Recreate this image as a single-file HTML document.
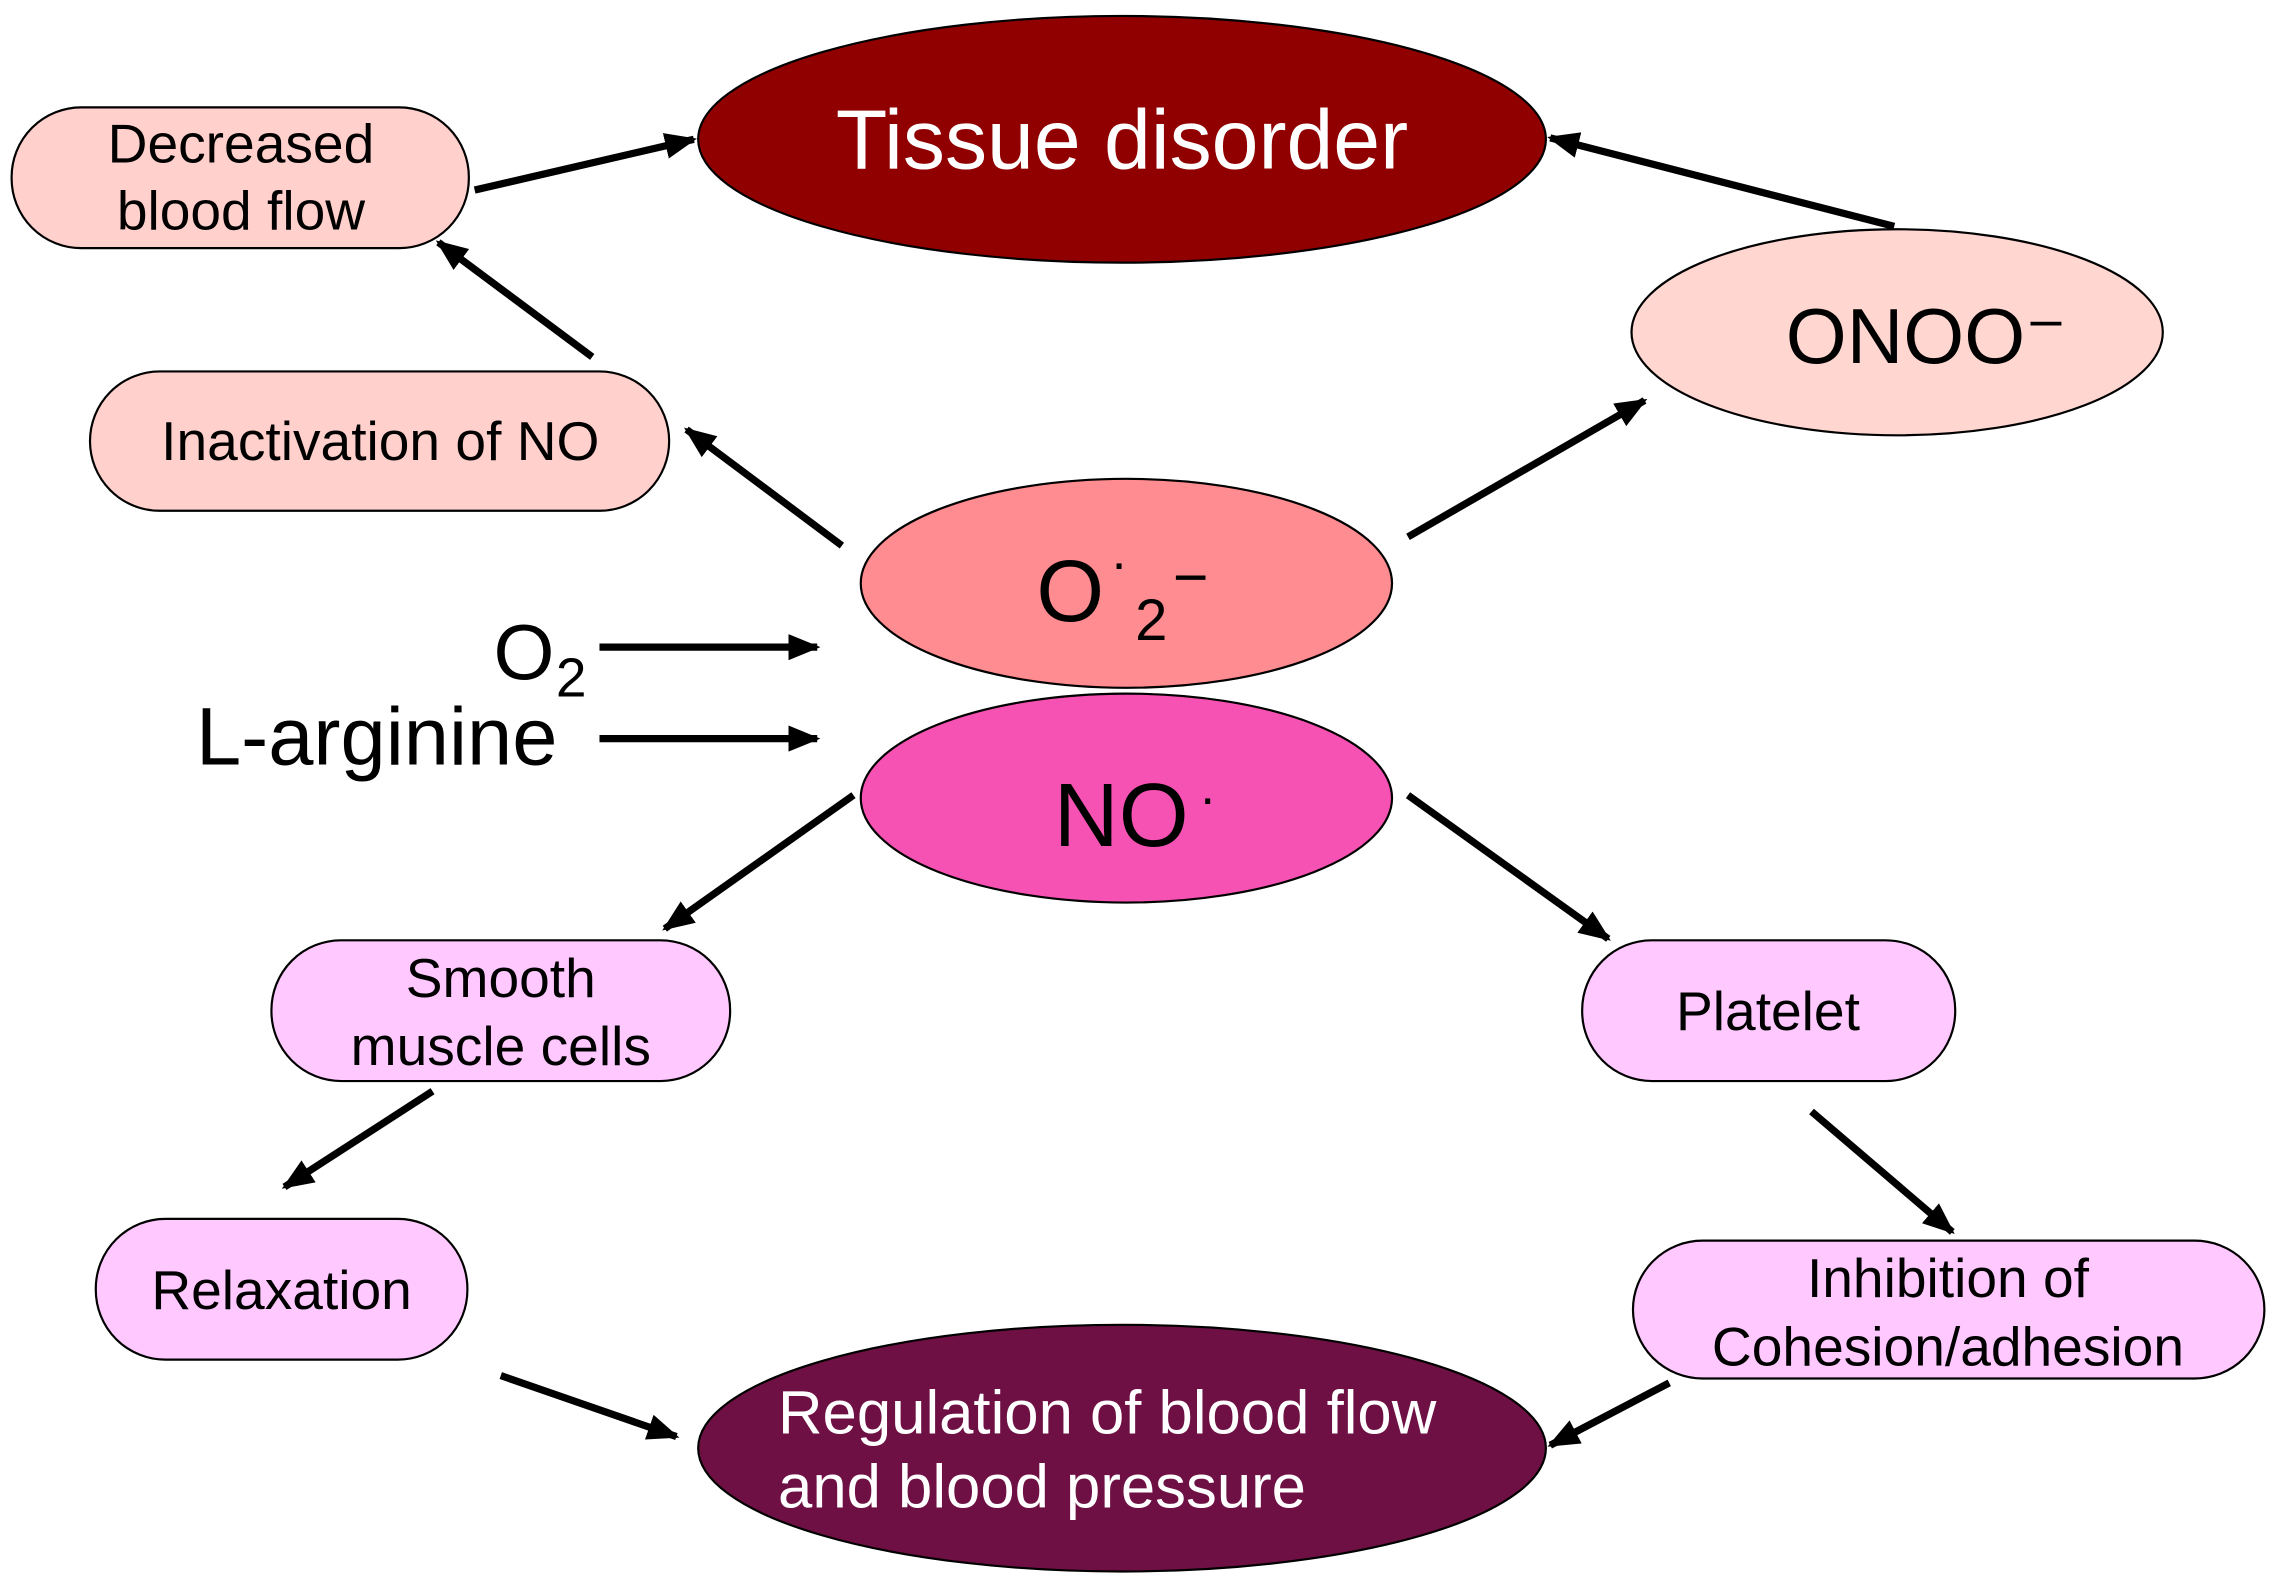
<!DOCTYPE html>
<html><head><meta charset="utf-8"><style>
html,body{margin:0;padding:0;background:#fff;}
svg{display:block;font-family:"Liberation Sans",Arial,sans-serif;}
</style></head><body>
<svg width="2276" height="1586" viewBox="0 0 1568 1093" preserveAspectRatio="none" xmlns="http://www.w3.org/2000/svg">
<defs>
<marker id="b" viewBox="0 0 10 10" refX="9" refY="5" markerWidth="22" markerHeight="18" orient="auto" markerUnits="userSpaceOnUse" preserveAspectRatio="none"><path d="M0,0 L10,5 L0,10 z" fill="#000"/></marker></defs>
<g stroke="#000" stroke-width="1.5">
<ellipse cx="773" cy="96" rx="292" ry="85" fill="#900000"/>
<rect x="8" y="74" width="315" height="97" rx="48" fill="#ffd0cc"/>
<rect x="62" y="256" width="399" height="96" rx="48" fill="#ffd0cc"/>
<ellipse cx="1307" cy="229" rx="183" ry="71" fill="#ffd6d0"/>
<ellipse cx="776" cy="402" rx="183" ry="72" fill="#ff8c90"/>
<ellipse cx="776" cy="550" rx="183" ry="72" fill="#f652b4"/>
<rect x="187" y="648" width="316" height="97" rx="48" fill="#ffc8ff"/>
<rect x="1090" y="648" width="257" height="97" rx="48" fill="#ffc8ff"/>
<rect x="66" y="840" width="256" height="97" rx="48" fill="#ffc8ff"/>
<rect x="1125" y="855" width="435" height="95" rx="48" fill="#ffc8ff"/>
<ellipse cx="773" cy="998" rx="292" ry="85" fill="#6e1044"/>
</g>
<g stroke="#000" stroke-width="5" marker-end="url(#b)" fill="none">
<line x1="327" y1="131" x2="478" y2="96"/>
<line x1="408" y1="246" x2="302" y2="167"/>
<line x1="580" y1="376" x2="473" y2="296"/>
<line x1="970" y1="370" x2="1133" y2="276"/>
<line x1="1305" y1="156" x2="1068" y2="95"/>
<line x1="413" y1="446" x2="563" y2="446"/>
<line x1="413" y1="509" x2="563" y2="509"/>
<line x1="588" y1="548" x2="458" y2="640"/>
<line x1="970" y1="548" x2="1108" y2="647"/>
<line x1="298" y1="752" x2="196" y2="818"/>
<line x1="1248" y1="766" x2="1345" y2="849"/>
<line x1="345" y1="948" x2="466" y2="990"/>
<line x1="1150" y1="953" x2="1068" y2="996"/>
</g>
<g font-size="38" text-anchor="middle" fill="#000">
<text x="773" y="116" font-size="58" fill="#fff">Tissue disorder</text>
<text x="166" y="112">Decreased</text>
<text x="166" y="158">blood flow</text>
<text x="262" y="317">Inactivation of NO</text>
<text x="1327" y="250" font-size="54">ONOO⁻</text>
<text x="345" y="687">Smooth</text>
<text x="345" y="734">muscle cells</text>
<text x="1218" y="710">Platelet</text>
<text x="194" y="902">Relaxation</text>
<text x="1342" y="894">Inhibition of</text>
<text x="1342" y="941">Cohesion/adhesion</text>
</g>
<g fill="#fff" font-size="42.5">
<text x="536" y="988">Regulation of blood flow</text>
<text x="536" y="1039">and blood pressure</text>
</g>
<g font-size="60" fill="#000">
<text x="714" y="428">O</text><text x="765" y="400" font-size="36">·</text><text x="782" y="441" font-size="40">2</text><text x="808" y="412" font-size="42">−</text>
<text x="726" y="583" font-size="62">NO</text><text x="826" y="562" font-size="36">·</text>
<text x="340" y="468" font-size="54">O</text><text x="383" y="480" font-size="38">2</text>
<text x="135" y="527" font-size="56">L-arginine</text>
</g>
</svg>
</body></html>
